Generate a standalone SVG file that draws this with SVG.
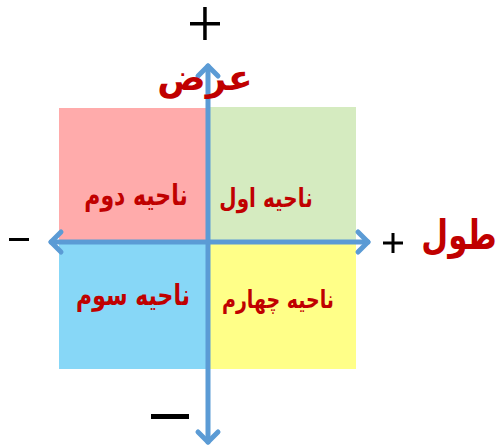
<svg xmlns="http://www.w3.org/2000/svg" width="499" height="446" viewBox="0 0 499 446">
<style>
.q{font-family:"DejaVu Sans","Noto Sans",sans-serif;font-weight:bold;fill:#c00000;text-anchor:middle}
.ax{stroke:#5b9bd5;stroke-width:5;fill:none;stroke-linecap:round;stroke-linejoin:round}
</style>
<rect width="499" height="446" fill="#fff"/>
<g id="q2"><rect x="59" y="108" width="149" height="133" fill="#ffabab"/><text class="q" transform="translate(136,205) scale(1,1.3)" font-size="22" direction="rtl">ناحیه دوم</text></g>
<g id="q1"><rect x="208" y="107" width="148" height="134" fill="#d5ebc0"/><text class="q" transform="translate(266,207) scale(1,1.3)" font-size="20" direction="rtl">ناحیه اول</text></g>
<g id="q3"><rect x="59" y="241" width="149" height="128" fill="#87d7f7"/><text class="q" transform="translate(133,305) scale(1,1.3)" font-size="22" direction="rtl">ناحیه سوم</text></g>
<g id="q4"><rect x="208" y="241" width="148" height="128" fill="#ffff88"/><text class="q" transform="translate(278,308) scale(1,1.3)" font-size="19" direction="rtl">ناحیه چهارم</text></g>
<g id="connectors">
<line class="ax" x1="208" y1="66" x2="208" y2="442"/>
<polyline class="ax" points="198,76 208,66 218,76"/>
<polyline class="ax" points="198,432 208,442 218,432"/>
<line class="ax" x1="51" y1="242" x2="368" y2="242"/>
<polyline class="ax" points="61,232 51,242 61,252"/>
<polyline class="ax" points="358,232 368,242 358,252"/>
</g>
<g id="labels">
<text class="q" x="205" y="90" font-size="36" direction="rtl">عرض</text>
<text class="q" transform="translate(459,249) scale(1,1.3)" font-size="31" direction="rtl">طول</text>
<rect x="190" y="22" width="30" height="3.5" fill="#000"/>
<rect x="203.2" y="7" width="3.5" height="33" fill="#000"/>
<rect x="383" y="241.5" width="20" height="3" fill="#000"/>
<rect x="391.5" y="233" width="3" height="20" fill="#000"/>
<rect x="9" y="238" width="20" height="3" fill="#000"/>
<rect x="151" y="414" width="38" height="5" fill="#000"/>
</g>
</svg>
